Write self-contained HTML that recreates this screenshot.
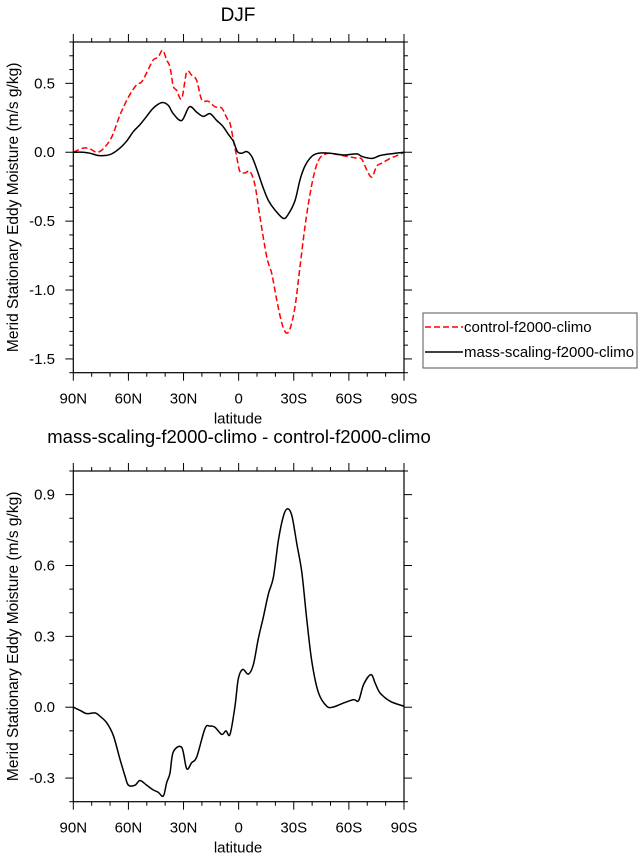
<!DOCTYPE html>
<html><head><meta charset="utf-8"><style>
body{margin:0;background:#fff;}
svg{display:block;font-family:"Liberation Sans",Arial,sans-serif;}
</style></head><body>
<svg id="c" width="643" height="861" viewBox="0 0 643 861">
<text x="238" y="21" font-size="19" text-anchor="middle">DJF</text>
<text x="239" y="443" font-size="18.5" text-anchor="middle">mass-scaling-f2000-climo - control-f2000-climo</text>
<g>
<rect x="423" y="313" width="214" height="55" fill="#fff" stroke="#555" stroke-width="1"/>
<line x1="425" y1="327" x2="463" y2="327" stroke="#f00" stroke-width="1.5" stroke-dasharray="6,3"/>
<text x="464" y="332" font-size="15">control-f2000-climo</text>
<line x1="425" y1="352" x2="463" y2="352" stroke="#000" stroke-width="1.5"/>
<text x="464" y="357" font-size="15">mass-scaling-f2000-climo</text>
</g>
</svg>
<script>
const ctrlLat=[90,84.6,81,77.3,73.7,69.1,64.6,60,55.5,52.8,49.2,46.5,43.8,41.4,39.2,37.4,35.6,33.8,31,28.3,25.6,22.8,20.1,16.5,12.9,9.2,6.5,4.7,2.9,1.1,-0.7,-3.5,-6.2,-8.9,-11.6,-15.3,-18,-20.7,-23.5,-25.8,-28,-30.7,-33.4,-36.1,-38.9,-41.6,-44.3,-48,-51.6,-58.9,-64.3,-67,-69.8,-72.5,-75.2,-77.9,-82.5,-87,-90];
const ctrlVal=[0,0.03,0.025,0,0.025,0.11,0.27,0.40,0.49,0.51,0.60,0.67,0.69,0.74,0.67,0.62,0.48,0.45,0.39,0.58,0.56,0.52,0.38,0.37,0.33,0.32,0.25,0.21,0.09,-0.03,-0.14,-0.15,-0.14,-0.24,-0.47,-0.76,-0.88,-1.07,-1.24,-1.31,-1.28,-1.12,-0.83,-0.54,-0.30,-0.13,-0.04,-0.01,-0.012,-0.03,-0.043,-0.05,-0.13,-0.18,-0.10,-0.08,-0.045,-0.02,0];
const massLat=[90,84.6,81,76.4,72.8,69.1,64.6,61,57.3,53.7,50.1,46.5,41.9,38.3,35.6,31,26.8,22.8,19.2,15.6,11.9,8.7,5.6,2.9,0.7,-1.7,-4.4,-7.1,-9.8,-13.4,-16.2,-19.8,-24.3,-27,-30.7,-33.4,-36.1,-39.8,-43.4,-49.7,-57,-64.3,-67,-72.5,-77,-82.5,-90];
const massVal=[0,0,-0.007,-0.024,-0.024,-0.012,0.03,0.08,0.15,0.20,0.26,0.32,0.36,0.34,0.28,0.23,0.33,0.29,0.26,0.28,0.23,0.19,0.13,0.08,0.005,-0.007,0.005,-0.03,-0.12,-0.26,-0.35,-0.42,-0.48,-0.45,-0.35,-0.20,-0.10,-0.03,-0.007,-0.007,-0.02,-0.012,-0.03,-0.045,-0.024,-0.012,0];
const diffLat=[90,86.4,82.7,78.2,75.5,71.8,68.2,64.6,61.9,60,56.4,53.7,50.1,46.5,43.8,41,39.2,37.4,35.6,31,28.3,25.6,22.8,18.3,15.6,12.9,9.2,6.9,4.7,2,0.2,-2.2,-5.3,-8,-10.7,-13.4,-16.2,-18.9,-21.7,-24.4,-26.6,-29,-31.7,-34.4,-37.1,-39.9,-43.5,-48,-51.6,-56.2,-62.5,-65.3,-68,-72,-74.4,-77,-82.5,-90];
const diffVal=[0,-0.013,-0.027,-0.024,-0.038,-0.066,-0.12,-0.22,-0.29,-0.33,-0.33,-0.31,-0.33,-0.35,-0.36,-0.376,-0.32,-0.28,-0.19,-0.17,-0.26,-0.235,-0.21,-0.09,-0.08,-0.085,-0.115,-0.10,-0.115,0.004,0.12,0.16,0.14,0.18,0.29,0.38,0.48,0.55,0.71,0.81,0.84,0.81,0.69,0.57,0.37,0.19,0.06,0.004,0.001,0.015,0.032,0.028,0.096,0.138,0.10,0.06,0.025,0.004];
const xTickVals=[90,60,30,0,-30,-60,-90];
const xTickLabels=["90N","60N","30N","0","30S","60S","90S"];
const topYTicks=[0.5,0,-0.5,-1,-1.5];
const topYLabels=["0.5","0.0","-0.5","-1.0","-1.5"];
const botYTicks=[0.9,0.6,0.3,0,-0.3];
const botYLabels=["0.9","0.6","0.3","0.0","-0.3"];

const svg=document.getElementById('c');
const NS='http://www.w3.org/2000/svg';
function mk(tag,attrs,parent){const e=document.createElementNS(NS,tag);for(const k in attrs)e.setAttribute(k,attrs[k]);(parent||svg).appendChild(e);return e;}
function smoothPath(p){
  let d='M'+p[0][0].toFixed(2)+','+p[0][1].toFixed(2);
  for(let i=0;i<p.length-1;i++){
    const p0=p[i-1]||p[i],p1=p[i],p2=p[i+1],p3=p[i+2]||p2;
    const c1=[p1[0]+(p2[0]-p0[0])/6,p1[1]+(p2[1]-p0[1])/6];
    const c2=[p2[0]-(p3[0]-p1[0])/6,p2[1]-(p3[1]-p1[1])/6];
    d+=' C'+c1.map(v=>v.toFixed(2)).join(',')+' '+c2.map(v=>v.toFixed(2)).join(',')+' '+p2.map(v=>v.toFixed(2)).join(',');
  }
  return d;
}
function panel(name,top,bottom,ymin,ymax,yt,yl,minorStep,series){
  const L=73.3,R=404;
  const xs=lat=>L+(90-lat)/180*(R-L);
  const ys=v=>bottom-(v-ymin)/(ymax-ymin)*(bottom-top);
  const g=mk('g',{});
  
  
  for(let lat=90;lat>=-90;lat-=10){
    const maj=lat%30===0,len=maj?8:4,x=xs(lat);
    mk('line',{x1:x,x2:x,y1:bottom,y2:bottom+len,stroke:'#000','stroke-width':1},g);
    mk('line',{x1:x,x2:x,y1:top,y2:top-len,stroke:'#000','stroke-width':1},g);
  }
  const n=Math.round((ymax-ymin)/minorStep);
  for(let i=0;i<=n;i++){
    const v=ymin+i*minorStep,y=ys(v);
    const maj=yt.some(t=>Math.abs(t-v)<1e-6),len=maj?8:4;
    mk('line',{x1:L,x2:L-len,y1:y,y2:y,stroke:'#000','stroke-width':1},g);
    mk('line',{x1:R,x2:R+len,y1:y,y2:y,stroke:'#000','stroke-width':1},g);
  }
  xTickVals.forEach((t,i)=>{
    const tx=mk('text',{x:xs(t),y:bottom+31,'font-size':15,'text-anchor':'middle'},g);
    
    
    tx.textContent=xTickLabels[i];
  });
  yt.forEach((t,i)=>{
    const tx=mk('text',{x:55,y:ys(t)+5,'font-size':15,'text-anchor':'end'},g);
    
    
    tx.textContent=yl[i];
  });
  const xt=mk('text',{x:238,y:bottom+51,'font-size':15,'text-anchor':'middle'},g);
  
  
  xt.textContent='latitude';
  const cy=(top+bottom)/2;
  const yti=mk('text',{x:0,y:0,'font-size':15.5,'text-anchor':'middle',transform:`translate(18,${cy}) rotate(-90)`},g);
  
  
  yti.textContent='Merid Stationary Eddy Moisture (m/s g/kg)';
  series.forEach(s=>{
    const pts=s.lat.map((la,i)=>[xs(la),ys(s.val[i])]);
    const p=mk('path',{d:smoothPath(pts),fill:'none',stroke:s.color,'stroke-width':1.5,'stroke-linejoin':'round'},g);
    if(s.dash)p.setAttribute('stroke-dasharray',s.dash);
    
    
  });
  mk('rect',{x:L,y:top,width:R-L,height:bottom-top,fill:'none',stroke:'#000','stroke-width':1.2},g);
}
panel('top',42,372.7,-1.6,0.8,topYTicks,topYLabels,0.1,[
  {lat:ctrlLat,val:ctrlVal,color:'#f00',dash:'6,3',name:'control-line'},
  {lat:massLat,val:massVal,color:'#000',name:'mass-scaling-line'}]);
panel('bottom',471,801.7,-0.4,1.0,botYTicks,botYLabels,0.1,[
  {lat:diffLat,val:diffVal,color:'#000',name:'difference-line'}]);
</script>
</body></html>
